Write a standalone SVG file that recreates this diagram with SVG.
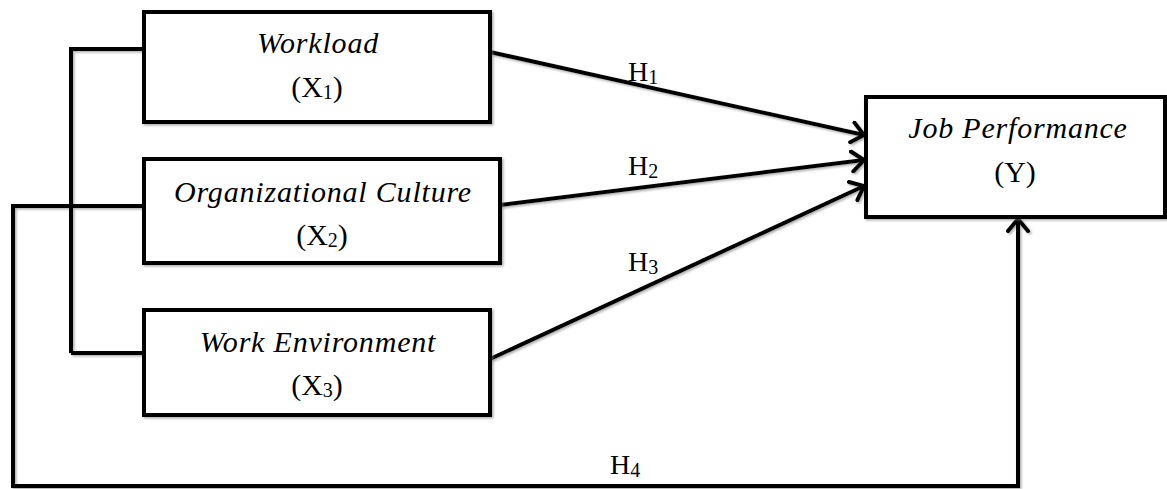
<svg xmlns="http://www.w3.org/2000/svg" width="1167" height="489" viewBox="0 0 1167 489">
<style>
.box{fill:#fff;stroke:#000;stroke-width:4;filter:url(#sh)}
.ln{fill:none;stroke:#000;stroke-width:4;stroke-linejoin:miter}
.t{font-family:"Liberation Serif","Times New Roman",serif;font-size:30px;fill:#000;text-anchor:middle}
.i{font-style:italic;letter-spacing:0.8px}
.h{font-family:"Liberation Serif","Times New Roman",serif;font-size:28px;fill:#000}
.sub{font-size:20px}
</style>
<defs>
<filter id="sh" x="-5%" y="-5%" width="110%" height="110%">
<feDropShadow dx="1.5" dy="1.5" stdDeviation="1" flood-color="#777" flood-opacity="0.6"/>
</filter>
<marker id="arr" viewBox="0 0 16 24" refX="14" refY="12" markerWidth="16" markerHeight="24" markerUnits="userSpaceOnUse" orient="auto">
<path d="M2,2 L14,12 L2,22" fill="none" stroke="#000" stroke-width="4" stroke-linecap="round" stroke-linejoin="miter"/>
</marker>
</defs>
<rect width="1167" height="489" fill="#fff"/>
<g id="connectors" filter="url(#sh)">
<path class="ln" d="M71,353 L71,49 L144,49"/>
<path class="ln" d="M71,353 L144,353"/>
<path class="ln" d="M144,206 L13,206 L13,486 L1018,486 L1018,219" marker-end="url(#arr)"/>
<path class="ln" d="M490,52 L864,135" marker-end="url(#arr)"/>
<path class="ln" d="M500,205 L864,160" marker-end="url(#arr)"/>
<path class="ln" d="M490,359 L864,186" marker-end="url(#arr)"/>
</g>
<g id="labels">
<text class="h" x="628" y="81">H<tspan class="sub" dy="3">1</tspan></text>
<text class="h" x="628" y="175">H<tspan class="sub" dy="3">2</tspan></text>
<text class="h" x="628" y="271">H<tspan class="sub" dy="3">3</tspan></text>
<text class="h" x="610" y="474">H<tspan class="sub" dy="3">4</tspan></text>
</g>
<g id="workload">
<rect class="box" x="144" y="12" width="346" height="110"/>
<text class="t i" x="318" y="53">Workload</text>
<text class="t" x="317" y="97">(X<tspan class="sub" dy="2">1</tspan><tspan dy="-2">)</tspan></text>
</g>
<g id="culture">
<rect class="box" x="144" y="159" width="356" height="104"/>
<text class="t i" x="323" y="202">Organizational Culture</text>
<text class="t" x="322" y="245">(X<tspan class="sub" dy="2">2</tspan><tspan dy="-2">)</tspan></text>
</g>
<g id="environment">
<rect class="box" x="144" y="310" width="346" height="105"/>
<text class="t i" x="318" y="352">Work Environment</text>
<text class="t" x="317" y="395">(X<tspan class="sub" dy="2">3</tspan><tspan dy="-2">)</tspan></text>
</g>
<g id="performance">
<rect class="box" x="866" y="97" width="299" height="120"/>
<text class="t i" x="1018" y="138">Job Performance</text>
<text class="t" x="1015" y="182">(Y)</text>
</g>
</svg>
